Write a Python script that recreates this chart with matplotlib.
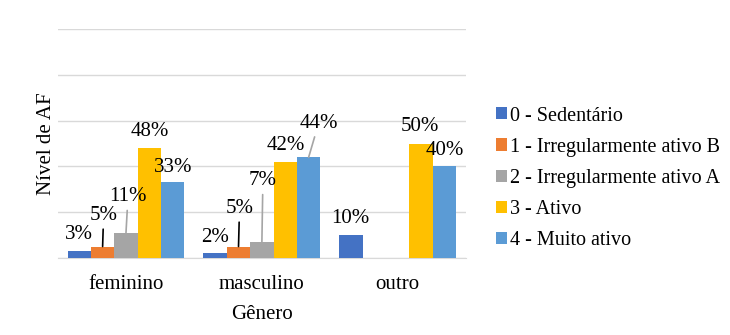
import numpy as np
import matplotlib
matplotlib.use("Agg")
import matplotlib.pyplot as plt

plt.rcParams['font.family'] = ['Liberation Serif', 'DejaVu Serif']

generos = ["feminino", "masculino", "outro"]
niveis = ["0 - Sedentário", "1 - Irregularmente ativo B", "2 - Irregularmente ativo A",
          "3 - Ativo", "4 - Muito ativo"]
# percentagens por nivel (linhas) e genero (colunas)
valores = [
    [3, 2, 10],
    [5, 5, 0],
    [11, 7, 0],
    [48, 42, 50],
    [33, 44, 40],
]
cores = ["#4472C4", "#ED7D31", "#A5A5A5", "#FFC000", "#5B9BD5"]

# deslocamento dos rotulos (pixels) e cor da linha de chamada (None = sem linha)
desloc = {
    (0, 0): (0, 17, None), (1, 0): (1, 31, "black"), (2, 0): (2, 36, "#A5A5A5"),
    (3, 0): (0, 17, None), (4, 0): (0, 15, None),
    (0, 1): (0, 16, None), (1, 1): (1, 38, "black"), (2, 1): (1, 61, "#A5A5A5"),
    (3, 1): (1, 16, None), (4, 1): (10, 34, "#A5A5A5"),
    (0, 2): (-1, 17, None), (3, 2): (-1, 17, None), (4, 2): (0, 16, None),
}
fs = 15

fig = plt.figure(figsize=(7.3, 3.35), dpi=100)
ax = fig.add_axes([0.0795, 0.23, 0.5585, 0.683])

x = np.arange(len(generos))
larg = 0.172
for j, nome in enumerate(niveis):
    pos = x + (j - 2) * larg
    ax.bar(pos, valores[j], larg, color=cores[j], label=nome, zorder=3)
    for i, v in enumerate(valores[j]):
        if v == 0:
            continue
        dx, dy, cor = desloc[(j, i)]
        props = None
        if cor is not None:
            props = dict(arrowstyle="-", color=cor, lw=1.2, shrinkA=1, shrinkB=0)
        ax.annotate(f"{v}%", xy=(pos[i], v), xytext=(dx, dy),
                    textcoords="offset pixels", ha="center", va="center",
                    fontsize=fs, arrowprops=props, zorder=4)

ax.set_xlim(-0.5, 2.5)
ax.set_ylim(0, 100)
ax.set_yticks(np.arange(0, 101, 20))
ax.set_yticklabels([])
ax.tick_params(axis="y", length=0)
ax.tick_params(axis="x", length=0, labelsize=fs, pad=12)
ax.set_xticks(x)
ax.set_xticklabels(generos)
ax.grid(axis="y", color="#D9D9D9", lw=1, zorder=0)
for s in ["top", "right", "left"]:
    ax.spines[s].set_visible(False)
ax.spines["bottom"].set_color("#D9D9D9")
ax.set_xlabel("Gênero", fontsize=fs, labelpad=8)
ax.set_ylabel("Nível de AF", fontsize=fs, labelpad=-2)

fig.legend(loc="center left", bbox_to_anchor=(0.654, 0.468), frameon=False,
           fontsize=14.5, handlelength=0.55, handleheight=0.55, handletextpad=0.15,
           labelspacing=0.6)

fig.savefig("out.png", dpi=100)
